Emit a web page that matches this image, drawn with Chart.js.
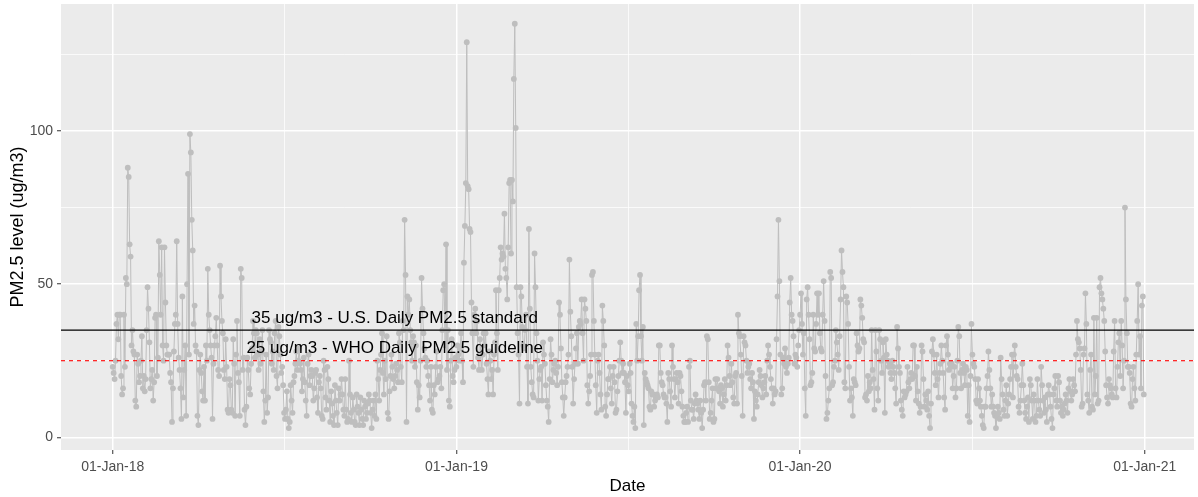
<!DOCTYPE html>
<html lang="en">
<head>
<meta charset="UTF-8">
<title>Daily PM2.5 level</title>
<script src="https://cdn.jsdelivr.net/npm/chart.js"></script>
<style>
  body { margin: 0; background: #ffffff; }
  #wrap { width: 1198px; height: 497px; }
</style>
</head>
<body>
<div id="wrap"><canvas id="pmChart" width="1198" height="497"></canvas></div>
<script>
// daily PM2.5 (ug/m3), one value per day starting 01-Jan-18, a line per month
const pm2018 = [
  23,21,19,25,37,40,32,40,40,20,14,16,40,23,52,50,88,85,63,59,30,35,28,27,12,10,27,24,18,20,25,
  33,16,20,15,19,35,49,42,31,16,19,22,12,18,39,40,20,26,64,53,40,62,30,25,62,44,30,27,
  27,27,21,18,5,16,28,37,40,64,37,26,22,16,6,46,13,22,30,7,50,86,27,99,93,71,61,37,43,30,28,
  7,4,22,27,21,15,12,23,12,30,25,55,40,35,30,26,6,24,30,33,39,30,22,20,56,46,38,34,22,19,
  32,23,9,8,19,17,9,8,32,24,7,27,38,21,18,7,55,52,22,26,9,4,10,26,22,16,14,24,29,38,34,
  26,35,34,27,22,32,24,28,35,15,5,12,27,8,13,35,32,31,24,28,22,34,38,20,16,36,33,27,21,23,
  17,8,6,9,15,6,3,5,17,12,8,18,20,24,28,22,25,29,24,22,15,19,26,18,12,7,24,27,17,20,22,
  20,12,16,21,22,13,8,18,20,16,7,6,25,22,13,9,23,19,12,5,15,11,7,4,17,12,8,4,16,12,14,
  19,14,9,7,19,9,5,6,25,14,8,5,13,9,5,4,14,10,8,4,13,9,6,4,12,10,6,8,11,14,
  12,8,3,9,12,7,14,6,25,19,12,22,27,34,21,14,25,19,33,8,6,15,20,27,23,19,16,20,24,22,18,
  34,31,23,18,38,35,71,53,5,46,40,45,35,31,25,33,31,23,30,18,9,17,13,25,52,42,34,29,26,23,
  25,20,17,12,23,9,8,17,14,23,28,18,19,20,23,16,35,48,50,30,63,22,35,12,10,25,32,20,18,22,26
];
const pm2019 = [
  23,30,27,25,29,34,25,18,57,69,83,129,82,81,68,67,44,34,23,40,42,34,38,26,22,32,27,22,27,34,30,
  34,24,19,14,28,25,19,22,14,27,31,48,34,22,48,52,62,58,60,59,73,55,52,45,62,83,84,60,
  84,77,117,135,101,49,34,27,11,49,46,36,30,29,35,40,23,11,68,42,23,18,14,13,60,49,34,25,12,19,22,
  23,12,31,27,24,17,12,10,5,19,32,27,18,22,24,25,21,17,23,44,40,29,18,13,7,13,18,20,23,27,
  58,41,33,23,11,19,24,29,34,24,36,38,37,45,34,25,45,42,38,17,11,15,20,27,53,54,38,27,17,8,25,
  27,21,14,9,43,38,30,10,7,14,19,19,23,16,11,20,23,18,8,9,15,20,25,31,25,21,24,21,18,8,
  20,17,15,24,21,11,7,5,10,3,37,25,33,48,53,33,25,36,4,21,19,18,17,16,10,9,15,14,14,10,12,
  13,14,13,30,30,21,18,17,14,13,13,11,5,21,19,15,10,30,23,19,13,19,21,18,11,21,20,15,10,7,5,
  5,8,10,5,23,25,12,9,9,6,11,14,12,11,9,6,12,8,3,9,17,18,12,33,32,18,6,8,12,16,
  5,6,19,16,19,16,15,11,17,16,10,14,19,12,17,30,26,20,17,24,18,13,11,20,21,11,40,34,33,27,20,
  7,33,31,30,25,21,23,24,19,16,21,18,6,15,12,10,14,18,22,20,17,13,16,18,20,14,25,30,27,23,
  19,16,11,16,14,15,32,46,71,51,27,14,16,26,24,29,23,21,24,26,44,52,40,38,33,24,27,26,23,30,35
];
const pm2020 = [
  40,47,37,27,34,16,7,45,49,40,32,17,18,21,40,29,28,37,47,40,47,34,29,28,40,51,38,20,6,8,12,
  16,54,52,17,18,23,25,35,31,27,22,33,45,61,54,49,18,16,46,44,37,23,12,16,13,7,19,18,17,
  34,30,28,29,45,43,39,32,31,13,14,12,20,15,18,16,35,22,19,9,35,28,16,12,35,32,25,21,31,26,8,
  32,27,25,23,24,21,19,25,23,21,16,11,36,29,23,21,12,9,7,15,13,14,15,23,18,16,19,21,19,30,
  30,20,12,23,15,11,8,10,30,28,19,10,14,12,9,15,7,3,11,28,32,27,21,17,27,19,13,21,24,30,25,
  21,13,9,30,33,27,22,24,23,24,16,20,23,13,16,25,36,33,21,16,22,24,21,17,23,22,7,17,5,20,
  37,27,24,23,19,12,11,19,16,12,10,7,4,3,10,10,16,20,28,22,16,10,14,10,8,7,3,7,10,8,6,
  26,19,14,9,7,12,17,7,11,14,19,23,27,13,27,30,23,20,19,10,8,12,17,24,17,12,8,6,10,13,5,
  19,17,12,6,14,12,5,7,19,12,9,7,23,17,12,8,13,9,5,14,17,14,10,6,3,14,16,20,12,10,
  20,18,12,8,10,7,9,11,14,12,8,16,19,15,12,14,19,17,15,27,38,32,31,29,22,10,11,27,29,47,37,
  14,12,8,22,27,10,9,39,14,20,39,11,12,49,52,47,45,42,38,28,17,13,11,19,17,16,14,13,28,38,
  16,13,23,31,34,20,38,30,16,25,75,45,34,23,23,21,11,10,19,23,16,12,27,38,50,27,33,16,43,46,14
];

// x ticks are days counted from 01-Jan-18
const xTickDays = [0, 182.5, 365, 547.5, 730, 913, 1096];
const xTickLabels = ['01-Jan-18', '', '01-Jan-19', '', '01-Jan-20', '', '01-Jan-21'];
const yTickValues = [0, 25, 50, 75, 100, 125];
const yTickLabels = ['0', '', '50', '', '100', ''];

const usStandard = 35;
const whoGuideline = 25;
const usText = '35 ug/m3 - U.S. Daily PM2.5 standard';
const whoText = '25 ug/m3 - WHO Daily PM2.5 guideline';

// axis ranges (ggplot style expansion)
const X_MIN = -54.9, X_MAX = 1148.3;
const Y_MIN = -4.15, Y_MAX = 141.45;
const LABEL_DAY = 299.5;
const FONT = '"Liberation Sans", Arial, sans-serif';
const GREY = '#BEBEBE';

const allDays = pm2018.concat(pm2019, pm2020);
const points = allDays.map((v, i) => ({ x: i, y: v }));

const panelBackground = {
  id: 'panelBackground',
  beforeDraw(chart) {
    const { ctx, chartArea: a } = chart;
    ctx.save();
    ctx.fillStyle = '#EBEBEB';
    ctx.fillRect(a.left, a.top, a.right - a.left, a.bottom - a.top);
    ctx.restore();
  }
};

const thresholdLabels = {
  id: 'thresholdLabels',
  afterDatasetsDraw(chart) {
    const { ctx, scales: { x, y } } = chart;
    ctx.save();
    ctx.font = '17px ' + FONT;
    ctx.fillStyle = '#000000';
    ctx.textAlign = 'center';
    ctx.textBaseline = 'middle';
    ctx.fillText(usText, x.getPixelForValue(LABEL_DAY), y.getPixelForValue(usStandard + 4));
    ctx.fillText(whoText, x.getPixelForValue(LABEL_DAY), y.getPixelForValue(whoGuideline + 4.2));
    ctx.restore();
  }
};

function hline(value) {
  return [{ x: X_MIN, y: value }, { x: X_MAX, y: value }];
}

new Chart(document.getElementById('pmChart'), {
  type: 'line',
  data: {
    datasets: [
      { data: hline(usStandard), borderColor: '#000000', borderWidth: 1.1, pointRadius: 0, order: 0 },
      { data: hline(whoGuideline), borderColor: '#FF0000', borderWidth: 1.1, borderDash: [4, 4], pointRadius: 0, order: 0 },
      {
        data: points, borderColor: GREY, borderWidth: 1, pointRadius: 2.9,
        pointBackgroundColor: GREY, pointBorderWidth: 0, tension: 0, order: 1
      }
    ]
  },
  options: {
    responsive: false,
    animation: false,
    parsing: false,
    layout: { padding: { left: 0, right: 3, top: 4, bottom: 0 } },
    plugins: { legend: { display: false }, tooltip: { enabled: false } },
    scales: {
      x: {
        type: 'linear', min: X_MIN, max: X_MAX, bounds: 'data',
        afterBuildTicks: s => { s.ticks = xTickDays.map(v => ({ value: v })); },
        afterFit: s => { s.height = 47; s.paddingLeft = 0; s.paddingRight = 0; },
        border: { display: false },
        grid: {
          color: '#FFFFFF',
          lineWidth: c => (xTickLabels[c.index] ? 1.5 : 0.75),
          tickLength: 4,
          tickWidth: 1,
          tickColor: c => (xTickLabels[c.index] ? '#333333' : 'rgba(0,0,0,0)')
        },
        ticks: {
          autoSkip: false, maxRotation: 0, padding: 5, color: '#4D4D4D',
          font: { family: FONT, size: 14 },
          callback: (v, i) => xTickLabels[i]
        },
        title: { display: true, text: 'Date', color: '#000000', font: { family: FONT, size: 17 }, padding: { top: 0, bottom: 0 } }
      },
      y: {
        type: 'linear', min: Y_MIN, max: Y_MAX, bounds: 'data',
        afterBuildTicks: s => { s.ticks = yTickValues.map(v => ({ value: v })); },
        afterFit: s => { s.width = 61; s.paddingTop = 0; s.paddingBottom = 0; },
        border: { display: false },
        grid: {
          color: '#FFFFFF',
          lineWidth: c => (yTickLabels[c.index] ? 1.5 : 0.75),
          tickLength: 4,
          tickWidth: 1,
          tickColor: c => (yTickLabels[c.index] ? '#333333' : 'rgba(0,0,0,0)')
        },
        ticks: {
          padding: 4, color: '#4D4D4D',
          font: { family: FONT, size: 14 },
          callback: (v, i) => yTickLabels[i]
        },
        title: { display: true, text: 'PM2.5 level (ug/m3)', color: '#000000', font: { family: FONT, size: 18 }, padding: { top: 7, bottom: 0 } }
      }
    }
  },
  plugins: [panelBackground, thresholdLabels]
});
</script>
</body>
</html>
